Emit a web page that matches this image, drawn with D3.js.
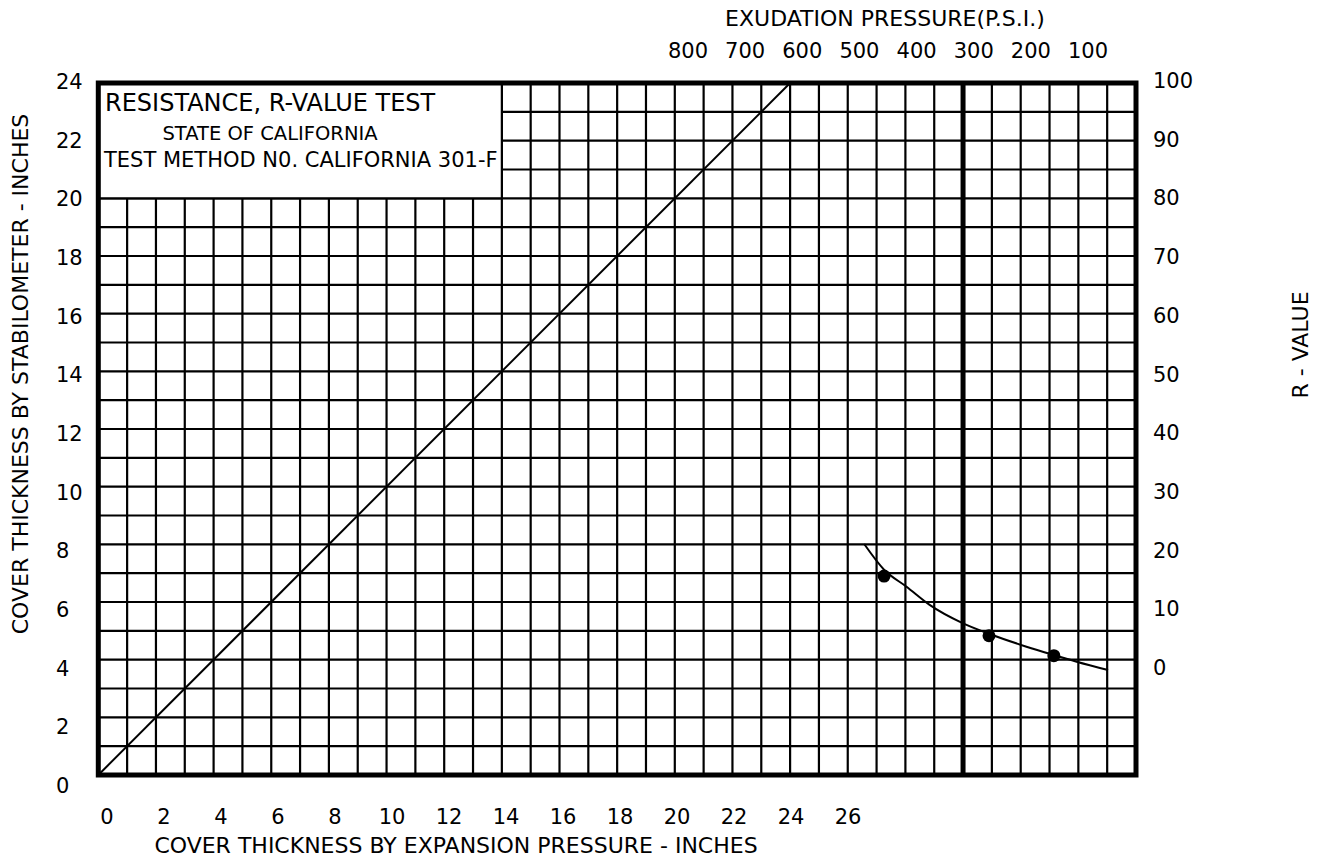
<!DOCTYPE html>
<html>
<head>
<meta charset="utf-8">
<script src="https://cdn.jsdelivr.net/npm/d3@7"></script>
<style>
    body { margin: 0; background: #fff; }
    text { font-family: 'DejaVu Sans', sans-serif; fill: #000; }
</style>
</head>
<body>
<div id="rvalueGraph"></div>
<script>
// Tick labels printed on the form
const stabTicks = [0, 2, 4, 6, 8, 10, 12, 14, 16, 18, 20, 22, 24];
const expansionTicks = [0, 2, 4, 6, 8, 10, 12, 14, 16, 18, 20, 22, 24, 26];
const rValueTicks = [0, 10, 20, 30, 40, 50, 60, 70, 80, 90, 100];
const exudationTicks = [800, 700, 600, 500, 400, 300, 200, 100];

// Hand drawn curve (grid inches)
const curveX = [26.57, 27.26, 28.04, 28.84, 30.0, 30.9, 32.2, 33.15, 33.94, 35.03];
const curveY = [8.01, 7.12, 6.53, 5.9, 5.26, 4.9, 4.45, 4.16, 3.93, 3.64];

// Test specimens
const pointX = [27.26, 30.9, 33.15];
const pointY = [6.9, 4.83, 4.14];

const titleLines = ['RESISTANCE, R-VALUE TEST', 'STATE OF CALIFORNIA', 'TEST METHOD N0. CALIFORNIA 301-F'];

class RValueChart {
    constructor(divId) {
        this.divId = '#' + divId;
        this.width = 1341;
        this.height = 860;
        this.frame = {left: 98.3, right: 1136, top: 83, bottom: 775};
        this.cols = 36;
        this.rows = 24;
    }

    createGraph(classEnv = this) {
        const f = this.frame;

        // Grid scales
        this.x = d3.scaleLinear().domain([0, this.cols]).range([f.left, f.right]);
        this.y = d3.scaleLinear().domain([0, this.rows]).range([f.bottom, f.top]);

        // Label scales (printed labels sit a little off the grid)
        this.xLab = d3.scaleLinear().domain([0, 26]).range([107, 848]);
        this.yLab = d3.scaleLinear().domain([0, 24]).range([786, 82]);
        this.rLab = d3.scaleLinear().domain([0, 100]).range([668, 81]);
        this.eLab = d3.scaleLinear().domain([800, 100]).range([688, 1088]);

        this.chart = d3.select(this.divId)
            .append('svg')
            .attr('width', this.width)
            .attr('height', this.height);

        // Grid lines
        const grid = this.chart.append('g').attr('stroke', '#000').attr('stroke-width', 2.2);
        grid.selectAll('.vline')
            .data(d3.range(1, this.cols))
            .enter()
            .append('line')
                .attr('x1', d => classEnv.x(d))
                .attr('x2', d => classEnv.x(d))
                .attr('y1', f.top)
                .attr('y2', f.bottom);
        grid.selectAll('.hline')
            .data(d3.range(1, this.rows))
            .enter()
            .append('line')
                .attr('x1', f.left)
                .attr('x2', f.right)
                .attr('y1', d => classEnv.y(d))
                .attr('y2', d => classEnv.y(d));

        // Title box
        this.chart.append('rect')
            .attr('x', this.x(0))
            .attr('y', this.y(24))
            .attr('width', this.x(14) - this.x(0))
            .attr('height', this.y(20) - this.y(24))
            .attr('fill', '#fff')
            .attr('stroke', '#000')
            .attr('stroke-width', 2.2);

        this.chart.append('text')
            .attr('x', 105)
            .attr('y', 103)
            .attr('dominant-baseline', 'central')
            .style('font-size', '24px')
            .text(titleLines[0]);
        this.chart.append('text')
            .attr('x', 270)
            .attr('y', 133)
            .attr('text-anchor', 'middle')
            .attr('dominant-baseline', 'central')
            .style('font-size', '19.5px')
            .text(titleLines[1]);
        this.chart.append('text')
            .attr('x', 104)
            .attr('y', 160)
            .attr('dominant-baseline', 'central')
            .style('font-size', '21px')
            .text(titleLines[2]);

        // Heavy line at column 30
        this.chart.append('line')
            .attr('x1', this.x(30))
            .attr('x2', this.x(30))
            .attr('y1', f.top)
            .attr('y2', f.bottom)
            .attr('stroke', '#000')
            .attr('stroke-width', 5);

        // Frame
        this.chart.append('rect')
            .attr('x', f.left)
            .attr('y', f.top)
            .attr('width', f.right - f.left)
            .attr('height', f.bottom - f.top)
            .attr('fill', 'none')
            .attr('stroke', '#000')
            .attr('stroke-width', 5);

        // 45 degree line
        this.chart.append('line')
            .attr('x1', this.x(0))
            .attr('y1', this.y(0))
            .attr('x2', this.x(24))
            .attr('y2', this.y(24))
            .attr('stroke', '#000')
            .attr('stroke-width', 2);

        // Curve
        const curveData = curveX.map((d, i) => ({x: d, y: curveY[i]}));
        this.line = d3.line()
            .curve(d3.curveMonotoneX)
            .x(d => classEnv.x(d.x))
            .y(d => classEnv.y(d.y));
        this.chart.append('path')
            .attr('fill', 'none')
            .attr('stroke', '#000')
            .attr('stroke-width', 2)
            .attr('d', this.line(curveData));

        // Points
        this.chart.append('g')
            .selectAll('.dot')
            .data(pointX.map((d, i) => ({x: d, y: pointY[i]})))
            .enter()
            .append('circle')
                .attr('class', 'dot')
                .attr('cx', d => classEnv.x(d.x))
                .attr('cy', d => classEnv.y(d.y))
                .attr('r', 6.5)
                .attr('fill', '#000');

        // Left tick labels
        this.chart.append('g')
            .selectAll('text')
            .data(stabTicks)
            .enter()
            .append('text')
                .attr('x', 56)
                .attr('y', d => classEnv.yLab(d))
                .attr('dominant-baseline', 'central')
                .style('font-size', '21px')
                .text(d => d);

        // Right tick labels
        this.chart.append('g')
            .selectAll('text')
            .data(rValueTicks)
            .enter()
            .append('text')
                .attr('x', 1153)
                .attr('y', d => classEnv.rLab(d))
                .attr('dominant-baseline', 'central')
                .style('font-size', '21px')
                .text(d => d);

        // Bottom tick labels
        this.chart.append('g')
            .selectAll('text')
            .data(expansionTicks)
            .enter()
            .append('text')
                .attr('x', d => classEnv.xLab(d))
                .attr('y', 817)
                .attr('text-anchor', 'middle')
                .attr('dominant-baseline', 'central')
                .style('font-size', '21px')
                .text(d => d);

        // Top tick labels
        this.chart.append('g')
            .selectAll('text')
            .data(exudationTicks)
            .enter()
            .append('text')
                .attr('x', d => classEnv.eLab(d))
                .attr('y', 51)
                .attr('text-anchor', 'middle')
                .attr('dominant-baseline', 'central')
                .style('font-size', '21px')
                .text(d => d);

        // Axis titles
        this.chart.append('text')
            .attr('x', 456)
            .attr('y', 845)
            .attr('text-anchor', 'middle')
            .attr('dominant-baseline', 'central')
            .style('font-size', '22px')
            .text('COVER THICKNESS BY EXPANSION PRESSURE - INCHES');
        this.chart.append('text')
            .attr('x', 885)
            .attr('y', 18)
            .attr('text-anchor', 'middle')
            .attr('dominant-baseline', 'central')
            .style('font-size', '22px')
            .text('EXUDATION PRESSURE(P.S.I.)');
        this.chart.append('text')
            .attr('transform', 'translate(20,374) rotate(-90)')
            .attr('text-anchor', 'middle')
            .attr('dominant-baseline', 'central')
            .style('font-size', '22px')
            .text('COVER THICKNESS BY STABILOMETER - INCHES');
        this.chart.append('text')
            .attr('transform', 'translate(1300,345) rotate(-90)')
            .attr('text-anchor', 'middle')
            .attr('dominant-baseline', 'central')
            .style('font-size', '22px')
            .text('R - VALUE');
    }
}

const graph = new RValueChart('rvalueGraph');
graph.createGraph();
</script>
</body>
</html>
